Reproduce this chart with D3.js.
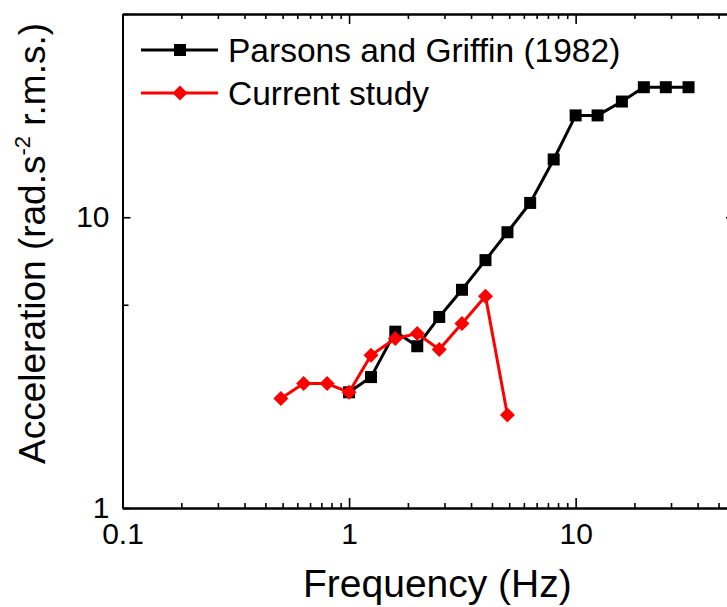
<!DOCTYPE html>
<html>
<head>
<meta charset="utf-8">
<script src="https://cdn.jsdelivr.net/npm/d3@7"></script>
<style>
  body { margin: 0; background: #fff; }
  svg text { font-family: "Liberation Sans", Arial, sans-serif; fill: #000; }
</style>
</head>
<body>
<div id="chart"></div>
<script>
// Parsons and Griffin (1982), third-octave centre frequencies
const pgFreq = [1, 1.25, 1.6, 2, 2.5, 3.15, 4, 5, 6.3, 8, 10, 12.5, 16, 20, 25, 31.5];
const pgAcc = [2.5, 2.82, 4.04, 3.6, 4.54, 5.63, 7.12, 8.88, 11.2, 15.8, 22.4, 22.4, 25.0, 28.0, 28.0, 28.0];

// Current study
const csFreq = [0.5, 0.63, 0.8, 1, 1.25, 1.6, 2, 2.5, 3.15, 4, 5];
const csAcc = [2.38, 2.68, 2.68, 2.5, 3.35, 3.83, 3.98, 3.51, 4.31, 5.35, 2.09];

const xMajor = [0.1, 1, 10];
const xLabels = ['0.1', '1', '10'];
const yMajor = [1, 10];
const yLabels = ['1', '10'];
const yMinor = [5, 50];

const seriesNames = ['Parsons and Griffin (1982)', 'Current study'];
const seriesColors = ['#000000', '#ff0000'];

const width = 727;
const height = 607;

const svg = d3.select('#chart')
  .append('svg')
  .attr('width', width)
  .attr('height', height);

const x = d3.scaleLog().domain([0.1, 50]).range([122.5, 734]);
const y = d3.scaleLog().domain([1, 50]).range([508, 14]);

// minor ticks on x: Origin style, 10 evenly spaced steps per decade
let xMinor = [];
[0.1, 1, 10].forEach(base => {
  for (let k = 1; k <= 10; k++) {
    const v = base * (1 + k * 9 / 11);
    if (v < 50) xMinor.push(v);
  }
});

const plotBottom = y.range()[0];
const plotTop = y.range()[1];
const plotLeft = x.range()[0];
const plotRight = x.range()[1];

function styleAxis(g) {
  g.selectAll('.domain').attr('stroke', '#000').attr('stroke-width', 2);
  g.selectAll('.tick line').attr('stroke', '#000').attr('stroke-width', 1.6);
}

// bottom axis
svg.append('g')
  .attr('transform', `translate(0,${plotBottom})`)
  .call(d3.axisBottom(x).tickValues(xMinor).tickSize(-5).tickFormat('').tickSizeOuter(0))
  .call(styleAxis);
svg.append('g')
  .attr('transform', `translate(0,${plotBottom})`)
  .call(d3.axisBottom(x).tickValues(xMajor).tickSize(-10).tickPadding(15)
    .tickFormat((d, i) => xLabels[i]).tickSizeOuter(0))
  .call(styleAxis)
  .call(g => g.selectAll('text').attr('font-size', 30).style('font-family', '"Liberation Sans", Arial, sans-serif'));

// top axis
svg.append('g')
  .attr('transform', `translate(0,${plotTop})`)
  .call(d3.axisTop(x).tickValues(xMinor).tickSize(-5).tickFormat('').tickSizeOuter(0))
  .call(styleAxis);
svg.append('g')
  .attr('transform', `translate(0,${plotTop})`)
  .call(d3.axisTop(x).tickValues(xMajor).tickSize(-10).tickFormat('').tickSizeOuter(0))
  .call(styleAxis);

// left axis
svg.append('g')
  .attr('transform', `translate(${plotLeft},0)`)
  .call(d3.axisLeft(y).tickValues(yMinor).tickSize(-6).tickFormat('').tickSizeOuter(0))
  .call(styleAxis);
svg.append('g')
  .attr('transform', `translate(${plotLeft},0)`)
  .call(d3.axisLeft(y).tickValues(yMajor).tickSize(-8).tickPadding(13)
    .tickFormat((d, i) => yLabels[i]).tickSizeOuter(0))
  .call(styleAxis)
  .call(g => g.selectAll('text').attr('font-size', 30).style('font-family', '"Liberation Sans", Arial, sans-serif'));

// right axis (mostly outside the window)
svg.append('g')
  .attr('transform', `translate(${plotRight},0)`)
  .call(d3.axisRight(y).tickValues(yMajor).tickSize(-8).tickFormat('').tickSizeOuter(0))
  .call(styleAxis);

// axis titles
svg.append('text')
  .attr('x', 303)
  .attr('y', 597)
  .attr('font-size', 39)
  .text('Frequency (Hz)');

const yTitle = svg.append('text')
  .attr('transform', 'translate(45,464) rotate(-90)')
  .attr('font-size', 37);
yTitle.append('tspan').text('Acceleration (rad.s');
yTitle.append('tspan').attr('font-size', 22).attr('dy', -15).text('-2');
yTitle.append('tspan').attr('dy', 15).text(' r.m.s.)');

// lines and markers
const line = d3.line().x(d => x(d[0])).y(d => y(d[1]));

const pgData = pgFreq.map((f, i) => [f, pgAcc[i]]);
const csData = csFreq.map((f, i) => [f, csAcc[i]]);

function drawSquares(g, data, color, size) {
  g.selectAll('rect')
    .data(data)
    .enter()
    .append('rect')
    .attr('x', d => x(d[0]) - size / 2)
    .attr('y', d => y(d[1]) - size / 2)
    .attr('width', size)
    .attr('height', size)
    .attr('fill', color);
}

function drawDiamonds(g, data, color, r) {
  g.selectAll('path.dm')
    .data(data)
    .enter()
    .append('path')
    .attr('class', 'dm')
    .attr('d', d => {
      const cx = x(d[0]), cy = y(d[1]);
      return `M${cx},${cy - r}L${cx + r},${cy}L${cx},${cy + r}L${cx - r},${cy}Z`;
    })
    .attr('fill', color);
}

const pgGroup = svg.append('g');
pgGroup.append('path')
  .datum(pgData)
  .attr('d', line)
  .attr('fill', 'none')
  .attr('stroke', seriesColors[0])
  .attr('stroke-width', 3);
drawSquares(pgGroup, pgData, seriesColors[0], 12);

const csGroup = svg.append('g');
csGroup.append('path')
  .datum(csData)
  .attr('d', line)
  .attr('fill', 'none')
  .attr('stroke', seriesColors[1])
  .attr('stroke-width', 3);
drawDiamonds(csGroup, csData, seriesColors[1], 7.5);

// legend
const legend = svg.append('g');
seriesNames.forEach((name, i) => {
  const ly = 50 + i * 43;
  legend.append('line')
    .attr('x1', 141).attr('x2', 218)
    .attr('y1', ly).attr('y2', ly)
    .attr('stroke', seriesColors[i])
    .attr('stroke-width', 3);
  if (i === 0) {
    legend.append('rect')
      .attr('x', 180 - 6).attr('y', ly - 6)
      .attr('width', 12).attr('height', 12)
      .attr('fill', seriesColors[i]);
  } else {
    legend.append('path')
      .attr('d', `M180,${ly - 7.5}L187.5,${ly}L180,${ly + 7.5}L172.5,${ly}Z`)
      .attr('fill', seriesColors[i]);
  }
  legend.append('text')
    .attr('x', 228)
    .attr('y', ly + 12)
    .attr('font-size', 33.5)
    .text(name);
});
</script>
</body>
</html>
